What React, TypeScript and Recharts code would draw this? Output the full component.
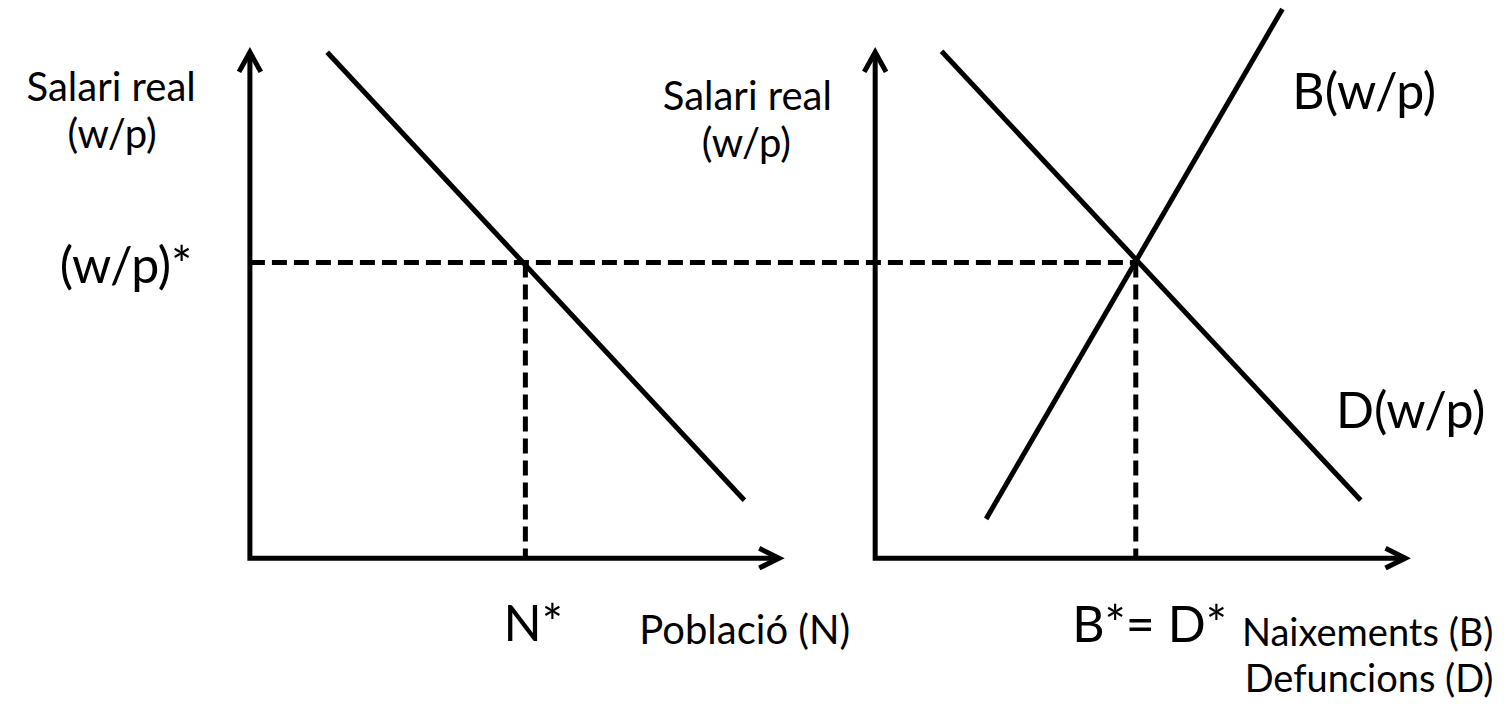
import { LineChart, Line, XAxis, YAxis, ReferenceDot } from 'recharts';

// units: 1 unit = 10px of the drawing, left panel origin is (0, 0)
const leftAxis = [{ x: 0, y: 51.5 }, { x: 0, y: 0 }, { x: 53.4, y: 0 }];
const rightAxis = [{ x: 63.1, y: 51.5 }, { x: 63.1, y: 0 }, { x: 116.6, y: 0 }];

// labour demand (left), deaths D(w/p) and births B(w/p) (right)
const demandN = [{ x: 7.8, y: 51.5 }, { x: 49.9, y: 5.9 }];
const deathsD = [{ x: 69.8, y: 51.6 }, { x: 112.1, y: 5.9 }];
const birthsB = [{ x: 74.3, y: 4.0 }, { x: 104.2, y: 55.9 }];

// equilibrium
const wStar = 30.1;
const nStar = 27.8;
const bdStar = 89.4;

const upArrow = (x: number, y: number) => [
  { x: x - 1.1, y: y - 2 },
  { x, y },
  { x: x + 1.1, y: y - 2 },
];
const rightArrow = (x: number, y: number) => [
  { x: x - 2, y: y + 1 },
  { x, y },
  { x: x - 2, y: y - 1 },
];

const wLine = [{ x: 0, y: wStar }, { x: bdStar, y: wStar }];
const nLine = [{ x: nStar, y: wStar }, { x: nStar, y: 0 }];
const bdLine = [{ x: bdStar, y: wStar }, { x: bdStar, y: 0 }];

const FONT = 'Lato, sans-serif';

const textShape = (text: string, size: number, anchor: 'start' | 'middle' | 'end') =>
  (p: any) => (
    <text x={p.cx} y={p.cy} fontSize={size} fontFamily={FONT} textAnchor={anchor} fill="#000">
      {text}
    </text>
  );

const solid = { stroke: '#000', strokeWidth: 5, dot: false, activeDot: false, isAnimationActive: false, type: 'linear' as const };
const dashed = { ...solid, strokeDasharray: '15 7' };

export default function App() {
  return (
    <div style={{ position: 'absolute', left: 0, top: 0, background: '#fff' }}>
      <LineChart width={1511} height={715} margin={{ top: 8, right: 72, bottom: 147, left: 239 }}>
        <XAxis type="number" dataKey="x" domain={[0, 120]} hide />
        <YAxis type="number" dataKey="y" domain={[0, 56]} hide />

        <Line data={wLine} dataKey="y" {...dashed} />
        <Line data={nLine} dataKey="y" {...dashed} />
        <Line data={bdLine} dataKey="y" {...dashed} />

        <Line data={leftAxis} dataKey="y" {...solid} strokeLinejoin="miter" />
        <Line data={rightAxis} dataKey="y" {...solid} strokeLinejoin="miter" />
        <Line data={upArrow(leftAxis[0].x, leftAxis[0].y)} dataKey="y" {...solid} />
        <Line data={rightArrow(leftAxis[2].x, leftAxis[2].y)} dataKey="y" {...solid} />
        <Line data={upArrow(rightAxis[0].x, rightAxis[0].y)} dataKey="y" {...solid} />
        <Line data={rightArrow(rightAxis[2].x, rightAxis[2].y)} dataKey="y" {...solid} />

        <Line data={demandN} dataKey="y" {...solid} />
        <Line data={deathsD} dataKey="y" {...solid} />
        <Line data={birthsB} dataKey="y" {...solid} />

        <ReferenceDot x={-14.0} y={46.5} r={0} ifOverflow="visible" shape={textShape('Salari real', 40, 'middle')} />
        <ReferenceDot x={-13.9} y={41.8} r={0} ifOverflow="visible" shape={textShape('(w/p)', 40, 'middle')} />
        <ReferenceDot x={-12.5} y={28.0} r={0} ifOverflow="visible" shape={textShape('(w/p)*', 50, 'middle')} />
        <ReferenceDot x={50.2} y={45.6} r={0} ifOverflow="visible" shape={textShape('Salari real', 40, 'middle')} />
        <ReferenceDot x={50.1} y={40.8} r={0} ifOverflow="visible" shape={textShape('(w/p)', 40, 'middle')} />
        <ReferenceDot x={105.2} y={45.7} r={0} ifOverflow="visible" shape={textShape('B(w/p)', 50, 'start')} />
        <ReferenceDot x={109.6} y={13.3} r={0} ifOverflow="visible" shape={textShape('D(w/p)', 50, 'start')} />
        <ReferenceDot x={28.6} y={-8.4} r={0} ifOverflow="visible" shape={textShape('N*', 50, 'middle')} />
        <ReferenceDot x={39.3} y={-8.7} r={0} ifOverflow="visible" shape={textShape('Població (N)', 40, 'start')} />
        <ReferenceDot x={98.6} y={-8.5} r={0} ifOverflow="visible" shape={textShape('B*= D*', 50, 'end')} />
        <ReferenceDot x={125.5} y={-8.9} r={0} ifOverflow="visible" shape={textShape('Naixements (B)', 38, 'end')} />
        <ReferenceDot x={125.5} y={-13.6} r={0} ifOverflow="visible" shape={textShape('Defuncions (D)', 38, 'end')} />
      </LineChart>
    </div>
  );
}
